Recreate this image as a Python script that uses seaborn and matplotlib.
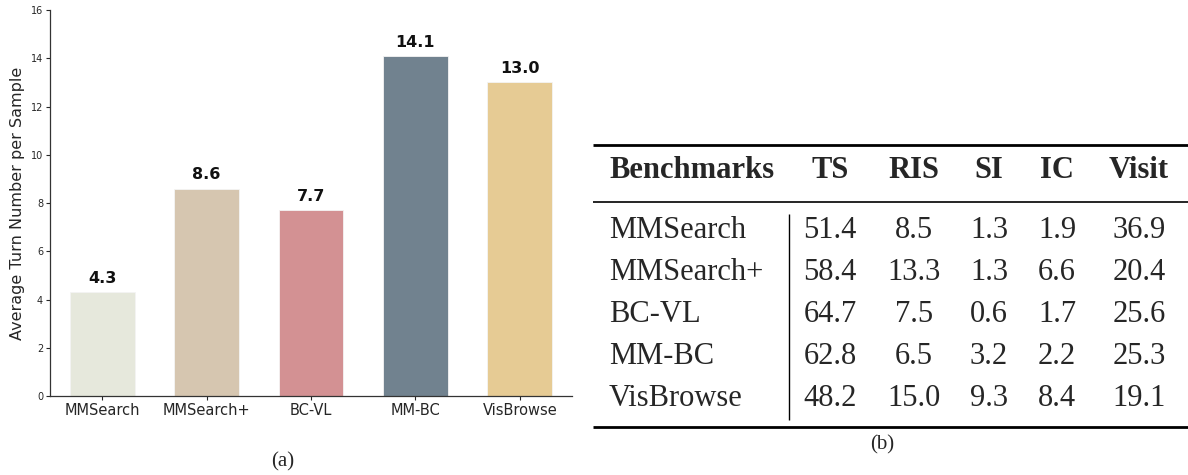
import matplotlib
matplotlib.use("Agg")
import matplotlib.pyplot as plt
import seaborn as sns

# --- data -------------------------------------------------------------
benchmarks = ["MMSearch", "MMSearch+", "BC-VL", "MM-BC", "VisBrowse"]
avg_turns = [4.3, 8.6, 7.7, 14.1, 13.0]
bar_colors = ["#E6E8DC", "#D6C6B0", "#D39193", "#71828F", "#E6CB94"]

table_cols = ["Benchmarks", "TS", "RIS", "SI", "IC", "Visit"]
ts = ["51.4", "58.4", "64.7", "62.8", "48.2"]
ris = ["8.5", "13.3", "7.5", "6.5", "15.0"]
si = ["1.3", "1.3", "0.6", "3.2", "9.3"]
ic = ["1.9", "6.6", "1.7", "2.2", "8.4"]
visit = ["36.9", "20.4", "25.6", "25.3", "19.1"]

sns.set_theme(style="white")
plt.rcParams['font.family'] = ['DejaVu Sans']

W, H = 1188, 475
fig = plt.figure(figsize=(W / 100, H / 100), dpi=100)

# --- (a) bar chart ----------------------------------------------------
ax = fig.add_axes([50 / W, 1 - 396 / H, 522 / W, 386 / H])
sns.barplot(x=benchmarks, y=avg_turns, hue=benchmarks, palette=bar_colors,
            saturation=1, width=0.62, legend=False, ax=ax,
            edgecolor="#f4f4f4", linewidth=0.6)
ax.set_ylim(0, 16)
ax.set_xlim(-0.5, 4.5)
ax.set_yticks(range(0, 17, 2))
ax.tick_params(axis="y", labelsize=7, length=3, width=0.8, pad=2)
ax.tick_params(axis="x", labelsize=10.5, length=3, width=0.8, pad=2)
ax.tick_params(left=True, bottom=True)
ax.set_ylabel("Average Turn Number per Sample", fontsize=11.5)
for s in ["top", "right"]:
    ax.spines[s].set_visible(False)
for s in ["left", "bottom"]:
    ax.spines[s].set_color("#333333")
    ax.spines[s].set_linewidth(0.9)

for i, v in enumerate(avg_turns):
    ax.text(i, v + 0.25, f"{v:.1f}", ha="center", va="bottom",
            fontsize=11.5, fontweight="bold", color="#111111")

fig.text(283 / W, 1 - 462 / H, "(a)", ha="center", va="center",
         fontsize=15, family="Liberation Serif")

# --- (b) table --------------------------------------------------------
tax = fig.add_axes([0, 0, 1, 1])
tax.set_xlim(0, W)
tax.set_ylim(H, 0)
tax.axis("off")

serif = "Liberation Serif"
col_x = [609, 830, 914, 989, 1057, 1139]
header_y = 171
row_y = [231, 273, 315, 357, 398]

tax.hlines(145, 593, 1188, color="black", lw=2.0)
tax.hlines(202, 593, 1188, color="black", lw=1.2)
tax.hlines(427, 593, 1188, color="black", lw=2.0)
tax.vlines(789, 214, 420, color="black", lw=1.0)

for j, name in enumerate(table_cols):
    tax.text(col_x[j], header_y, name, ha="left" if j == 0 else "center",
             va="center", fontsize=22, fontweight="bold", family=serif)

columns = [benchmarks, ts, ris, si, ic, visit]
for j, col in enumerate(columns):
    for k, val in enumerate(col):
        tax.text(col_x[j], row_y[k], val, ha="left" if j == 0 else "center",
                 va="center", fontsize=22, family=serif)

tax.text(882, 445, "(b)", ha="center", va="center", fontsize=15, family=serif)

fig.savefig("out.png", dpi=100)
